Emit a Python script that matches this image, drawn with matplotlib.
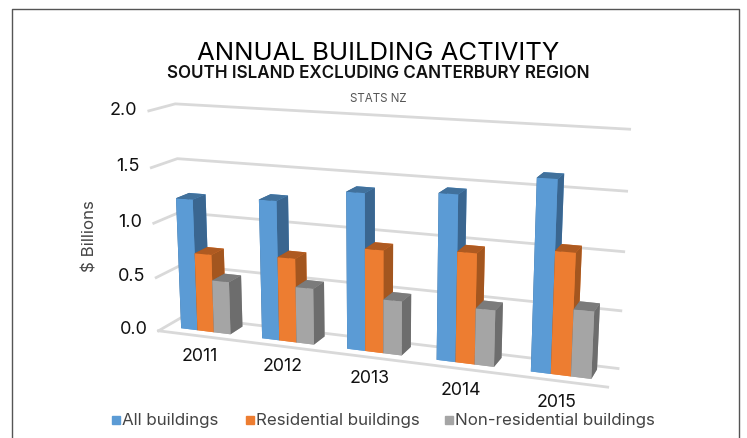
import matplotlib
matplotlib.use("Agg")
import matplotlib.pyplot as plt
import numpy as np

plt.rcParams['font.family'] = ['Inter', 'DejaVu Sans']

years = ['2011', '2012', '2013', '2014', '2015']
all_buildings = [1.21, 1.26, 1.39, 1.44, 1.625]
residential = [0.72, 0.76, 0.91, 0.96, 1.04]
non_residential = [0.485, 0.507, 0.48, 0.49, 0.57]
series_names = ['All buildings', 'Residential buildings', 'Non-residential buildings']
value_ticks = [0.0, 0.5, 1.0, 1.5, 2.0]

colours = ['#5b9bd5', '#ed7d31', '#a5a5a5']
side_colours = ['#3a6690', '#a3561f', '#6d6d6d']
top_colours = ['#41719c', '#ae5a21', '#7b7b7b']

W, H = 747, 438
fig = plt.figure(figsize=(7.47, 4.38), dpi=100)
ax = fig.add_axes([80.2 / W, -96.8 / H, 580.3 / W, 580.3 / H], projection='3d')
ax.set_proj_type('persp', focal_length=0.4038)
ax.view_init(elev=14.02, azim=-69.5)
ax.set_box_aspect((475, 53.8, 233.5), zoom=0.9)
ax.set_axis_off()
ax.patch.set_alpha(0)
ax.computed_zorder = False

# walls
for v in value_ticks:
    ax.plot([0, 0, 5], [0, 1, 1], [v, v, v], color='#d9d9d9', lw=2, zorder=1)
ax.plot([0, 5], [0, 0], [0, 0], color='#d9d9d9', lw=2, zorder=1)

bar_w = 0.205
bar_y = 0.3
bar_d = 0.52
z = 2
for i in range(len(years)):
    for j, vals in enumerate([all_buildings, residential, non_residential]):
        x0 = i + 0.19 + j * bar_w
        face = [colours[j], top_colours[j], colours[j], colours[j], side_colours[j], side_colours[j]]
        ax.bar3d(x0, bar_y, 0, bar_w, bar_d, vals[i], color=face, shade=False, zorder=z)
        z += 1

ax.set_xlim(0, 5)
ax.set_ylim(0, 1)
ax.set_zlim(0, 2)
# axis is off, the labels below are placed by hand
ax.set_xticks([])
ax.set_yticks([])
ax.set_zticks([])

for i, y in enumerate(years):
    ax.text(i + 0.505, 0, -0.19, y, ha='center', va='center', fontsize=12.8, color='#111111', zorder=50)
for v in value_ticks:
    ax.text(-0.14, 0, v, f'{v:.1f}', ha='right', va='center', fontsize=13, color='#111111', zorder=50)

fig.text(378 / W, 1 - 53 / H, 'ANNUAL BUILDING ACTIVITY', ha='center', va='center', fontsize=18.5, color='black')
fig.text(378 / W, 1 - 74 / H, 'SOUTH ISLAND EXCLUDING CANTERBURY REGION', ha='center', va='center', fontsize=12.25, weight='semibold', color='#111111')
fig.text(378 / W, 1 - 99 / H, 'STATS NZ', ha='center', va='center', fontsize=8.3, color='#555555')
fig.text(90 / W, 1 - 236 / H, '$ Billions', rotation=90, ha='center', va='center', fontsize=12.2, color='#444444')

# legend
legend_x = [112, 246, 445]
for x, name, c in zip(legend_x, series_names, colours):
    fig.patches.append(plt.Rectangle((x / W, 1 - 424 / H), 8 / W, 8 / H, transform=fig.transFigure, color=c))
    fig.text((x + 10) / W, 1 - 420 / H, name, ha='left', va='center', fontsize=12.2, color='#444444')

# frame
fig.add_artist(plt.Line2D([12 / W, 12 / W, 739 / W, 739 / W], [0, 1 - 8.5 / H, 1 - 8.5 / H, 0], color='#555555', lw=1))

fig.savefig('out.png', dpi=100)
